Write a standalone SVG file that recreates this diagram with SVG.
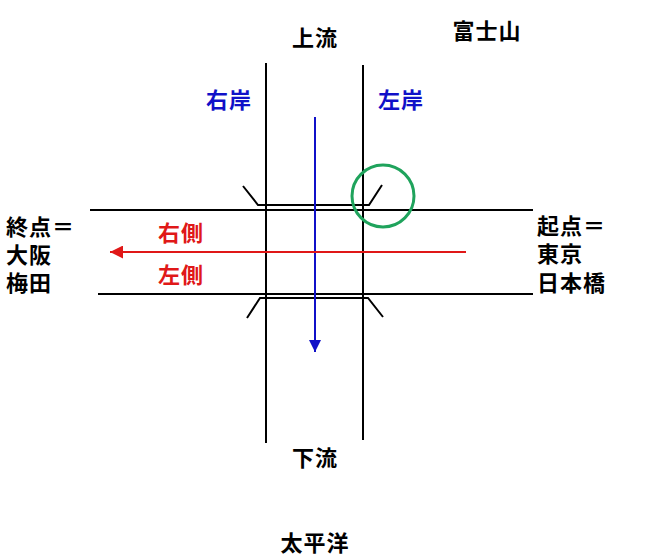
<svg xmlns="http://www.w3.org/2000/svg" width="666" height="559" viewBox="0 0 666 559">
<defs>
<style>
text{font-family:"Noto Sans CJK JP","Noto Sans",sans-serif;font-weight:bold;font-size:22px;dominant-baseline:central;letter-spacing:1px}
.k{fill:#000}
.b{fill:#1010c8}
.r{fill:#e01818}
.ln{stroke:#000;stroke-width:2;fill:none}
</style>
<marker id="ab" viewBox="0 0 10 10" refX="10" refY="5" markerWidth="12" markerHeight="12" markerUnits="userSpaceOnUse" orient="auto"><path d="M0,0L10,5L0,10z" fill="#1010c8"/></marker>
<marker id="ar" viewBox="0 0 10 10" refX="10" refY="5" markerWidth="13" markerHeight="13" markerUnits="userSpaceOnUse" orient="auto"><path d="M0,0L10,5L0,10z" fill="#e01818"/></marker>
</defs>
<rect width="666" height="559" fill="#fff"/>
<g id="river">
<line class="ln" x1="266" y1="63" x2="266" y2="443"/>
<line class="ln" x1="363" y1="65" x2="363" y2="440"/>
</g>
<g id="road">
<line class="ln" x1="90" y1="210" x2="533" y2="210"/>
<line class="ln" x1="98" y1="294" x2="533" y2="294"/>
</g>
<g id="bridge">
<polyline class="ln" points="243,186 258,205 369,205 382,185"/>
<polyline class="ln" points="247,318 260,298 368,298 383,317"/>
</g>
<g id="highlight">
<circle cx="383" cy="196" r="31" fill="none" stroke="#1fa35c" stroke-width="3"/>
</g>
<g id="connectors">
<line x1="315" y1="117" x2="315" y2="352" stroke="#1010c8" stroke-width="2" marker-end="url(#ab)"/>
<line x1="466" y1="252" x2="110" y2="252" stroke="#e01818" stroke-width="2" marker-end="url(#ar)"/>
</g>
<g id="labels">
<text class="k" x="315" y="36" text-anchor="middle">上流</text>
<text class="k" x="487" y="29" text-anchor="middle">富士山</text>
<text class="b" x="229" y="98" text-anchor="middle">右岸</text>
<text class="b" x="401" y="98" text-anchor="middle">左岸</text>
<text class="r" x="181" y="231" text-anchor="middle">右側</text>
<text class="r" x="181" y="273" text-anchor="middle">左側</text>
<text class="k" x="6" y="225">終点＝</text>
<text class="k" x="6" y="253">大阪</text>
<text class="k" x="6" y="281">梅田</text>
<text class="k" x="537" y="224">起点＝</text>
<text class="k" x="537" y="252">東京</text>
<text class="k" x="537" y="281">日本橋</text>
<text class="k" x="315" y="456" text-anchor="middle">下流</text>
<text class="k" x="315" y="541" text-anchor="middle">太平洋</text>
</g>
</svg>
